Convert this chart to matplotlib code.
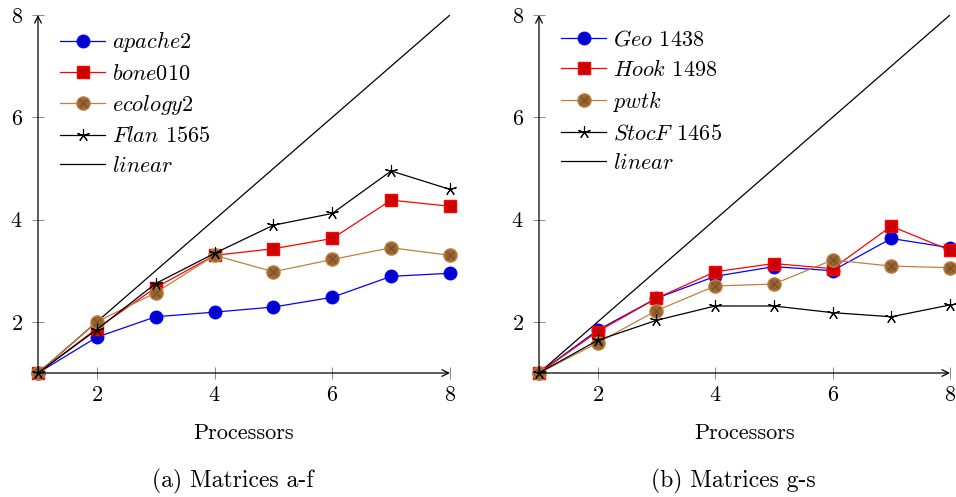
import matplotlib
matplotlib.use('Agg')
import matplotlib.pyplot as plt
from matplotlib.legend_handler import HandlerTuple

plt.rcParams['font.family'] = 'cmr10'
plt.rcParams['mathtext.fontset'] = 'cm'
plt.rcParams['axes.formatter.use_mathtext'] = True

procs = [1, 2, 3, 4, 5, 6, 7, 8]
linear = [1, 2, 3, 4, 5, 6, 7, 8]

# matrices a-f
apache2 = [1, 1.70, 2.10, 2.19, 2.29, 2.48, 2.89, 2.95]
bone010 = [1, 1.87, 2.67, 3.30, 3.43, 3.63, 4.38, 4.26]
ecology2 = [1, 2.00, 2.57, 3.30, 2.98, 3.22, 3.45, 3.30]
flan1565 = [1, 1.85, 2.75, 3.34, 3.89, 4.12, 4.95, 4.59]

# matrices g-s
geo1438 = [1, 1.84, 2.46, 2.89, 3.08, 3.00, 3.63, 3.45]
hook1498 = [1, 1.81, 2.46, 2.98, 3.14, 3.04, 3.87, 3.40]
pwtk = [1, 1.59, 2.22, 2.70, 2.74, 3.21, 3.09, 3.06]
stocf1465 = [1, 1.64, 2.03, 2.31, 2.31, 2.18, 2.10, 2.33]

labels_a = [r'$apache$2', r'$bone$010', r'$ecology$2', r'$Flan$ 1565', r'$linear$']
labels_b = [r'$Geo$ 1438', r'$Hook$ 1498', r'$pwtk$', r'$StocF$ 1465', r'$linear$']
ticks = [2, 4, 6, 8]

FS = 16


def pannello(ax, serie, labels, caption):
    s1, s2, s3, s4 = serie
    h1, = ax.plot(procs, s1, color='#0000FF', lw=0.9, marker='o', ms=9,
                  mfc='#0000CC', mec='#0000FF', clip_on=False, zorder=3)
    h2, = ax.plot(procs, s2, color='#FF0000', lw=0.9, marker='s', ms=9,
                  mfc='#CC0000', mec='#FF0000', clip_on=False, zorder=3)
    h3, = ax.plot(procs, s3, color='#BF8040', lw=0.9, marker='o', ms=9.5,
                  mfc='#996633', mec='#BF8040', clip_on=False, zorder=3)
    h3x, = ax.plot(procs, s3, ls='none', marker='x', ms=6, mew=0.6,
                   color='#6B4522', clip_on=False, zorder=4)
    h4, = ax.plot(procs, s4, color='k', lw=0.9, marker=(5, 2, 0), ms=9,
                  mew=0.8, clip_on=False, zorder=5)
    h5, = ax.plot(procs, linear, color='k', lw=0.9, zorder=2)

    ax.set_xlim(1, 8)
    ax.set_ylim(1, 8)
    ax.set_xticks(ticks)
    ax.set_yticks(ticks)
    ax.tick_params(direction='inout', length=8, width=0.6, color='0.45',
                   labelsize=FS)
    ax.tick_params(axis='x', pad=5)
    ax.tick_params(axis='y', pad=7)
    for sp in ax.spines.values():
        sp.set_visible(False)
    arr = dict(arrowstyle='->', lw=0.9, color='k', shrinkA=0, shrinkB=0,
               mutation_scale=12)
    ax.annotate('', xy=(1, 0), xytext=(0, 0), xycoords='axes fraction',
                arrowprops=arr, annotation_clip=False)
    ax.annotate('', xy=(0, 1), xytext=(0, 0), xycoords='axes fraction',
                arrowprops=arr, annotation_clip=False)

    ax.set_xlabel('Processors', fontsize=FS, labelpad=13)
    ax.text(0.473, -0.302, caption, transform=ax.transAxes, ha='center',
            va='center', fontsize=17)

    ax.legend([h1, h2, (h3, h3x), h4, h5], labels, loc='upper left',
              bbox_to_anchor=(0.053, 0.96), frameon=False, fontsize=FS,
              borderpad=0, borderaxespad=0, handlelength=2.05,
              handletextpad=0.3, labelspacing=0.42,
              handler_map={tuple: HandlerTuple(ndivide=1)})


fig = plt.figure(figsize=(9.56, 4.97), dpi=100)
ax1 = fig.add_axes([38 / 956, 1 - 373 / 497, 412 / 956, 358 / 497])
ax2 = fig.add_axes([539 / 956, 1 - 373 / 497, 411 / 956, 358 / 497])

pannello(ax1, [apache2, bone010, ecology2, flan1565], labels_a, '(a) Matrices a-f')
pannello(ax2, [geo1438, hook1498, pwtk, stocf1465], labels_b, '(b) Matrices g-s')

fig.savefig('out.png', dpi=100)
